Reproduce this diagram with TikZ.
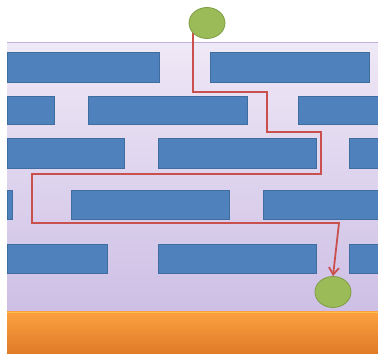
\documentclass[tikz,border=0pt]{standalone}
\usetikzlibrary{arrows.meta,shapes.geometric}
\definecolor{brick}{HTML}{4F81BD}
\definecolor{brickedge}{HTML}{3F6D9F}
\definecolor{bgtop}{HTML}{EFE8F6}
\definecolor{bgbot}{HTML}{CDBFE5}
\definecolor{bgedge}{HTML}{C5B0DC}
\definecolor{orangetop}{HTML}{FBA040}
\definecolor{orangebot}{HTML}{E07A28}
\definecolor{orangeline}{HTML}{FFC04A}
\definecolor{greenfill}{HTML}{9BBB59}
\definecolor{greenedge}{HTML}{7F9E45}
\definecolor{pathred}{HTML}{C9504D}
\pgfdeclarelayer{bg}
\pgfdeclarelayer{routelayer}
\pgfsetlayers{bg,routelayer,main}
\tikzset{
  brickbox/.style={fill=brick, draw=brickedge, line width=0.8pt},
  ball/.style={ellipse, fill=greenfill, draw=greenedge, line width=0.8pt, minimum width=36pt, minimum height=31pt, inner sep=0pt},
  route/.style={draw=pathred, line width=1.8pt}
}
\begin{document}
\begin{tikzpicture}[x=1pt,y=-1pt]
\useasboundingbox (0,0) rectangle (378,355);
\begin{pgfonlayer}{bg}
\fill[white] (0,0) rectangle (378,355);
% background layer
\shade[top color=bgtop, bottom color=bgbot] (7,43) rectangle (378,312);
\draw[bgedge, line width=1pt] (7,43) -- (378,43);
% orange base
\shade[top color=orangetop, bottom color=orangebot] (7,312) rectangle (378,354);
\draw[orangeline, line width=1pt] (7,312.5) -- (378,312.5);
% bricks row 1
\draw[brickbox] (7,52) rectangle (159,82);
\draw[brickbox] (210,52) rectangle (369,82);
% row 2
\draw[brickbox] (7,96) rectangle (54,124);
\draw[brickbox] (88,96) rectangle (247,124);
\draw[brickbox] (298,96) rectangle (378,124);
% row 3
\draw[brickbox] (7,138) rectangle (124,168);
\draw[brickbox] (158,138) rectangle (316,168);
\draw[brickbox] (349,138) rectangle (378,168);
% row 4
\draw[brickbox] (7,190) rectangle (12,219);
\draw[brickbox] (71,190) rectangle (229,219);
\draw[brickbox] (263,190) rectangle (378,219);
% row 5
\draw[brickbox] (7,244) rectangle (107,273);
\draw[brickbox] (158,244) rectangle (316,273);
\draw[brickbox] (349,244) rectangle (378,273);
\end{pgfonlayer}
% nodes
\node[ball] (start) at (207,23) {};
\node[ball] (goal) at (333,292) {};
% route
\coordinate (p1) at (193,92);
\coordinate (p2) at (267,92);
\coordinate (p3) at (267,132);
\coordinate (p4) at (321,132);
\coordinate (p5) at (321,174);
\coordinate (p6) at (32,174);
\coordinate (p7) at (32,223);
\coordinate (p8) at (339,223);
\begin{pgfonlayer}{routelayer}
\draw[route, -{Straight Barb[length=7pt,width=10pt]}] (p1 |- start.center) -- (p1) -- (p2) -- (p3) -- (p4) -- (p5) -- (p6) -- (p7) -- (p8) -- (goal.north);
\end{pgfonlayer}
\end{tikzpicture}
\end{document}
